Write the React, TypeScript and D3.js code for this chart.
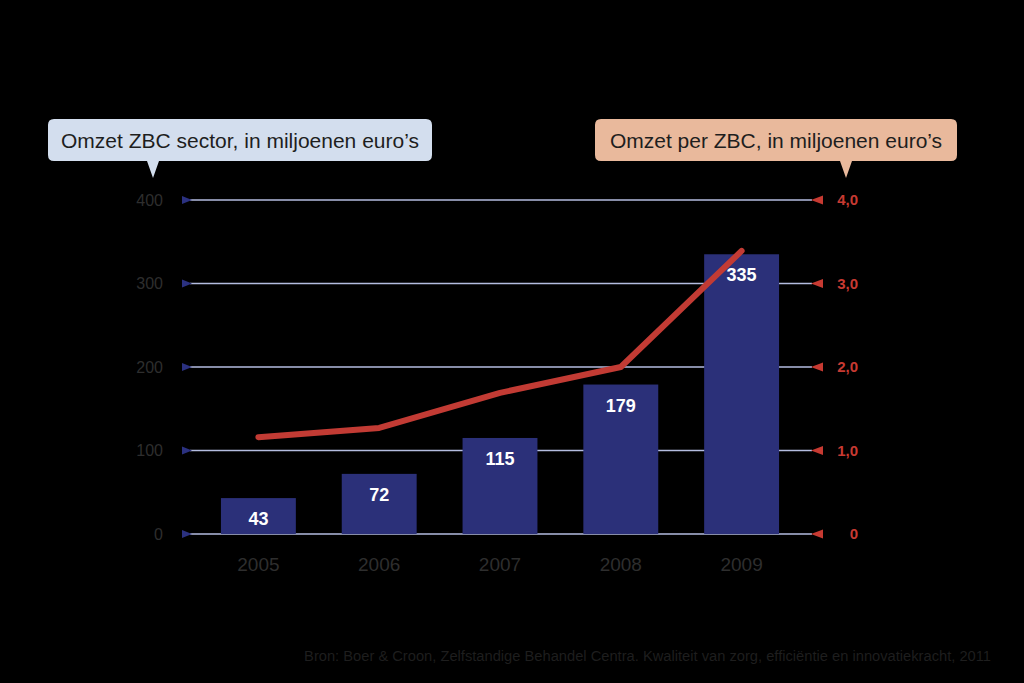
import * as d3 from 'd3';

const years = ['2005', '2006', '2007', '2008', '2009'];
const sectorRevenue = [43, 72, 115, 179, 335];
const perZbc = [1.16, 1.27, 1.69, 2.0, 3.39];
const leftTicks = [0, 100, 200, 300, 400];
const rightTicks = [0, 1, 2, 3, 4];
const rightTickLabels = ['0', '1,0', '2,0', '3,0', '4,0'];
const leftTitle = 'Omzet ZBC sector, in miljoenen euro\u2019s';
const rightTitle = 'Omzet per ZBC, in miljoenen euro\u2019s';
const source = 'Bron: Boer & Croon, Zelfstandige Behandel Centra. Kwaliteit van zorg, effici\u00ebntie en innovatiekracht, 2011';

const W = 1024;
const H = 683;
const font = 'Arial, "Liberation Sans", Helvetica, sans-serif';

const App = () => {
    const x = d3.scaleBand<string>()
        .domain(years)
        .range([198, 802])
        .paddingInner(0.38)
        .paddingOuter(0.19);
    const yLeft = d3.scaleLinear().domain([0, 400]).range([534, 200]);
    const yRight = d3.scaleLinear().domain([0, 4]).range([534, 200]);

    const line = d3.line<number>()
        .x((_, i) => (x(years[i]) as number) + x.bandwidth() / 2)
        .y(d => yRight(d));

    const gridX0 = 190;
    const gridX1 = 812;

    // callout bubble with a tail pointing down
    const bubble = (x0: number, x1: number, tailX: number) => {
        const y0 = 119, y1 = 161, r = 6, tip = 178;
        return `M${x0 + r},${y0} H${x1 - r} Q${x1},${y0} ${x1},${y0 + r} V${y1 - r} Q${x1},${y1} ${x1 - r},${y1}` +
            ` H${tailX + 6} L${tailX},${tip} L${tailX - 6},${y1} H${x0 + r} Q${x0},${y1} ${x0},${y1 - r} V${y0 + r} Q${x0},${y0} ${x0 + r},${y0} Z`;
    };

    return (
        <svg width={W} height={H} style={{ position: 'absolute', left: 0, top: 0, background: '#000' }}
            fontFamily={font}>
            <rect width={W} height={H} fill="#000" />

            {/* grid lines */}
            {leftTicks.map(t => (
                <line key={t} x1={gridX0} x2={gridX1} y1={yLeft(t)} y2={yLeft(t)}
                    stroke="#b4bde0" strokeWidth={1.6} />
            ))}

            {/* left axis markers + labels */}
            {leftTicks.map(t => (
                <g key={'l' + t}>
                    <path d={`M182,${yLeft(t) - 4} L192,${yLeft(t)} L182,${yLeft(t) + 4} Z`} fill="#2b3180" />
                    <text x={163} y={yLeft(t)} dy="0.35em" textAnchor="end" fill="#2e2e2e" fontSize={16}>{t}</text>
                </g>
            ))}

            {/* right axis markers + labels */}
            {rightTicks.map((t, i) => (
                <g key={'r' + t}>
                    <path d={`M823,${yRight(t) - 4.5} L811,${yRight(t)} L823,${yRight(t) + 4.5} Z`} fill="#c73a32" />
                    <text x={858} y={yRight(t)} dy="0.35em" textAnchor="end" fill="#c73a32"
                        fontSize={15} fontWeight="bold">{rightTickLabels[i]}</text>
                </g>
            ))}

            {/* bars */}
            {sectorRevenue.map((v, i) => (
                <rect key={years[i]} x={x(years[i])} y={yLeft(v)} width={x.bandwidth()}
                    height={yLeft(0) - yLeft(v)} fill="#2b3079" />
            ))}

            {/* year labels */}
            {years.map(yr => (
                <text key={'y' + yr} x={(x(yr) as number) + x.bandwidth() / 2} y={571}
                    textAnchor="middle" fill="#2e2e2e" fontSize={19}>{yr}</text>
            ))}

            {/* line */}
            <path d={line(perZbc) as string} fill="none" stroke="#c23b34" strokeWidth={6}
                strokeLinecap="round" strokeLinejoin="round" />

            {/* bar value labels */}
            {sectorRevenue.map((v, i) => (
                <text key={'v' + i} x={(x(years[i]) as number) + x.bandwidth() / 2} y={yLeft(v) + 27}
                    textAnchor="middle" fill="#fff" fontSize={18} fontWeight="bold">{v}</text>
            ))}

            {/* callouts */}
            <path d={bubble(48, 432, 153)} fill="#d3deee" />
            <text x={240} y={141} dy="0.35em" textAnchor="middle" fill="#1e1e1e" fontSize={21}>{leftTitle}</text>
            <path d={bubble(595, 957, 846)} fill="#e9b99c" />
            <text x={776} y={141} dy="0.35em" textAnchor="middle" fill="#1e1e1e" fontSize={21}>{rightTitle}</text>

            {/* source */}
            <text x={991} y={661} textAnchor="end" fill="#1e1e1e" fontSize={14.7}>{source}</text>
        </svg>
    );
};

export default App;
